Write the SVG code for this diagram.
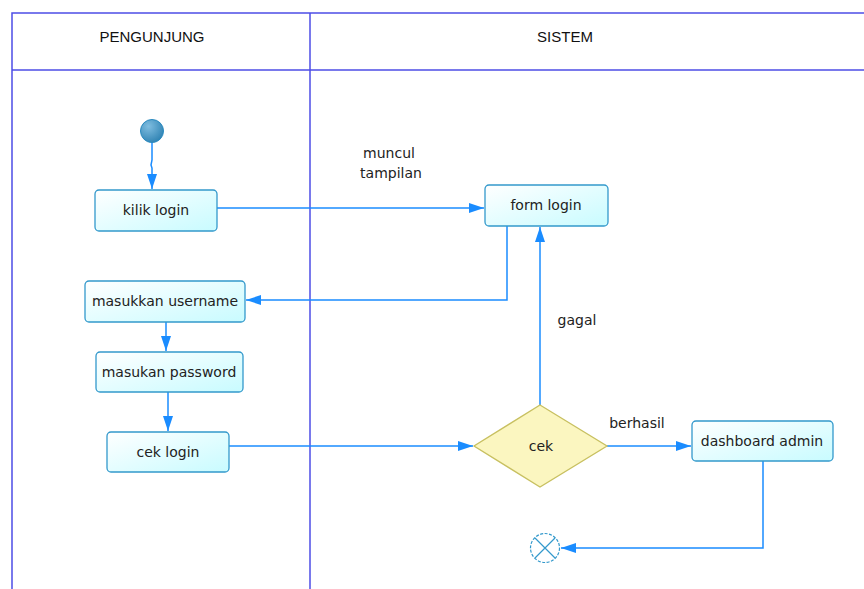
<svg xmlns="http://www.w3.org/2000/svg" width="864" height="589" viewBox="0 0 864 589">
<defs>
<linearGradient id="g" x1="0" y1="0" x2="1" y2="1">
<stop offset="0" stop-color="#ffffff"/>
<stop offset="1" stop-color="#c8fbff"/>
</linearGradient>
<radialGradient id="sg" cx="0.35" cy="0.3" r="0.8">
<stop offset="0" stop-color="#7fbde0"/>
<stop offset="1" stop-color="#2a7fb0"/>
</radialGradient>
<marker id="a" markerWidth="16" markerHeight="12" refX="15" refY="6" orient="auto" markerUnits="userSpaceOnUse">
<path d="M0,1 L15,6 L0,11 Z" fill="#1a8cff"/>
</marker>
<style>
.lane{fill:none;stroke:#4d4de6;stroke-width:1.5}
.box{fill:url(#g);stroke:#3399cc;stroke-width:1.3}
.t{font-family:"DejaVu Sans",Verdana,sans-serif;font-size:14px;fill:#222;text-anchor:middle}
.h{font-family:"Liberation Sans",Arial,sans-serif;font-size:15px;fill:#111;text-anchor:middle}
.c{fill:none;stroke:#1a8cff;stroke-width:1.5}
</style>
</defs>
<rect width="864" height="589" fill="#fff"/>
<g id="lanes">
<path class="lane" d="M12,600 V13 H870 M12,70 H870 M310,13 V600"/>
<text class="h" x="152" y="42">PENGUNJUNG</text>
<text class="h" x="565" y="42">SISTEM</text>
</g>
<g id="connectors">
<path class="c" d="M152,142 V160 L151,165 L152,168 V189" marker-end="url(#a)"/>
<path class="c" d="M217,208 H484" marker-end="url(#a)"/>
<path class="c" d="M507,226 V300 H246" marker-end="url(#a)"/>
<path class="c" d="M166,322 V351" marker-end="url(#a)"/>
<path class="c" d="M168,392 V431" marker-end="url(#a)"/>
<path class="c" d="M229,446 H473" marker-end="url(#a)"/>
<path class="c" d="M540,405 V227" marker-end="url(#a)"/>
<path class="c" d="M607,446 H691" marker-end="url(#a)"/>
<path class="c" d="M763,461 V548 H561" marker-end="url(#a)"/>
<text class="t" x="389" y="158">muncul</text>
<text class="t" x="391" y="178">tampilan</text>
<text class="t" x="577" y="325">gagal</text>
<text class="t" x="637" y="428">berhasil</text>
</g>
<g id="start"><circle cx="152" cy="131" r="11.5" fill="url(#sg)" stroke="#2a8ac0" stroke-width="1"/></g>
<g id="kilik"><rect class="box" x="95" y="190" width="122" height="41" rx="4"/><text class="t" x="156" y="215">kilik login</text></g>
<g id="username"><rect class="box" x="85" y="281" width="160" height="41" rx="4"/><text class="t" x="165" y="306">masukkan username</text></g>
<g id="password"><rect class="box" x="96" y="352" width="147" height="40" rx="4"/><text class="t" x="169" y="377">masukan password</text></g>
<g id="ceklogin"><rect class="box" x="107" y="432" width="122" height="40" rx="4"/><text class="t" x="168" y="457">cek login</text></g>
<g id="form"><rect class="box" x="485" y="185" width="123" height="41" rx="4"/><text class="t" x="546" y="210">form login</text></g>
<g id="cek"><path d="M540,405 L607,446 L540,487 L474,446 Z" fill="#fbf6c0" stroke="#c8c060" stroke-width="1.3"/><text class="t" x="541" y="451">cek</text></g>
<g id="dashboard"><rect class="box" x="692" y="421" width="141" height="40" rx="4"/><text class="t" x="762" y="446">dashboard admin</text></g>
<g id="end"><circle cx="545" cy="548" r="14.5" fill="#fff" stroke="#3399cc" stroke-width="1.2" stroke-dasharray="3,1.5"/><path d="M535,538 L555,558 M555,538 L535,558" stroke="#3399cc" stroke-width="1.2"/></g>
</svg>
